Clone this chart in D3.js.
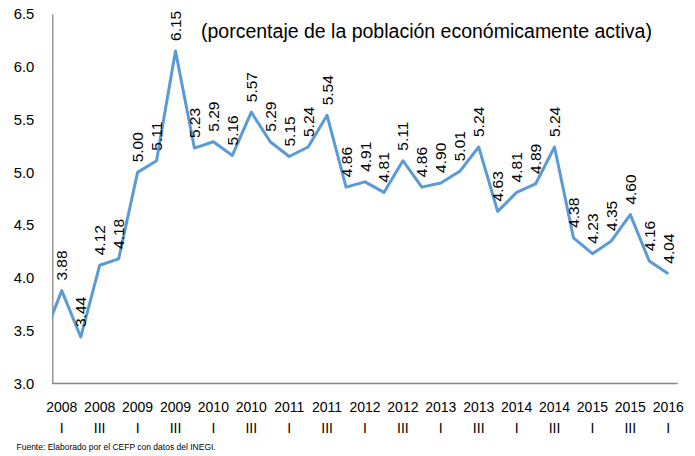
<!DOCTYPE html>
<html>
<head>
<meta charset="utf-8">
<script src="https://cdn.jsdelivr.net/npm/d3@7"></script>
<style>
  body { margin: 0; background: #fff; }
  text { font-family: "Liberation Sans", Arial, sans-serif; fill: #000; }
</style>
</head>
<body>
<div class="chart"></div>
<script>
var years = ["2008","2008","2008","2008","2009","2009","2009","2009","2010","2010","2010","2010",
             "2011","2011","2011","2011","2012","2012","2012","2012","2013","2013","2013","2013",
             "2014","2014","2014","2014","2015","2015","2015","2015","2016"];
var quarters = ["I","II","III","IV","I","II","III","IV","I","II","III","IV",
                "I","II","III","IV","I","II","III","IV","I","II","III","IV",
                "I","II","III","IV","I","II","III","IV","I"];
var values = [3.88,3.44,4.12,4.18,5.00,5.11,6.15,5.23,5.29,5.16,5.57,5.29,
              5.15,5.24,5.54,4.86,4.91,4.81,5.11,4.86,4.90,5.01,5.24,4.63,
              4.81,4.89,5.24,4.38,4.23,4.35,4.60,4.16,4.04];
// previous quarter (2007 IV), only its segment shows at the left edge
var leadValue = 3.42;
var yTicks = [3.0,3.5,4.0,4.5,5.0,5.5,6.0,6.5];

var w = 695, h = 456;
var plotLeft = 52.3, plotRight = 677.7, plotTop = 14, plotBottom = 383.5;

var svg = d3.select(".chart").append("svg")
    .attr("width", w)
    .attr("height", h);

var x = d3.scaleLinear()
    .domain([-0.5, values.length - 0.5])
    .range([plotLeft, plotRight]);

var y = d3.scaleLinear()
    .domain([3.0, 6.5])
    .range([plotBottom, plotTop]);

svg.append("defs").append("clipPath")
    .attr("id", "plot")
    .append("rect")
    .attr("x", plotLeft).attr("y", 0)
    .attr("width", plotRight - plotLeft).attr("height", plotBottom);

// y axis
var yAxis = svg.append("g")
    .attr("transform", "translate(" + plotLeft + ",0)")
    .call(d3.axisLeft(y).tickValues(yTicks).tickFormat(d3.format(".1f")).tickSize(0).tickPadding(18));
yAxis.select(".domain").attr("stroke", "#868686").attr("stroke-width", 1.3);
yAxis.selectAll("text")
    .style("font-size", "14.8px")
    .style("font-family", "'Liberation Sans', Arial, sans-serif")
    .attr("fill", "#000");

// x axis line
svg.append("line")
    .attr("x1", plotLeft).attr("x2", plotRight)
    .attr("y1", plotBottom).attr("y2", plotBottom)
    .attr("stroke", "#868686")
    .attr("stroke-width", 1.3);

var idx = d3.range(values.length).filter(function(i) { return i % 2 == 0; });

svg.selectAll("text.year")
    .data(idx)
    .enter()
    .append("text")
    .attr("class", "year")
    .attr("x", function(i) { return x(i); })
    .attr("y", 412)
    .attr("text-anchor", "middle")
    .style("font-size", "14px")
    .text(function(i) { return years[i]; });

svg.selectAll("text.quarter")
    .data(idx)
    .enter()
    .append("text")
    .attr("class", "quarter")
    .attr("x", function(i) { return x(i); })
    .attr("y", 433)
    .attr("text-anchor", "middle")
    .style("font-size", "14px")
    .text(function(i) { return quarters[i]; });

// line
var pts = [[-1, leadValue]].concat(values.map(function(v, i) { return [i, v]; }));
var line = d3.line()
    .x(function(d) { return x(d[0]); })
    .y(function(d) { return y(d[1]); });

svg.append("path")
    .datum(pts)
    .attr("clip-path", "url(#plot)")
    .attr("fill", "none")
    .attr("stroke", "#5B9BD5")
    .attr("stroke-width", 3)
    .attr("stroke-linejoin", "round")
    .attr("d", line);

// data labels
svg.selectAll("text.val")
    .data(values)
    .enter()
    .append("text")
    .attr("class", "val")
    .attr("transform", function(d, i) {
        return "translate(" + (x(i) + 5.5) + "," + (y(d) - 10) + ") rotate(-90)";
    })
    .style("font-size", "15.5px")
    .text(function(d) { return d3.format(".2f")(d); });

svg.append("text")
    .attr("x", 201)
    .attr("y", 38)
    .style("font-size", "19.5px")
    .text("(porcentaje de la población económicamente activa)");

svg.append("text")
    .attr("x", 16.5)
    .attr("y", 450)
    .style("font-size", "8.5px")
    .text("Fuente: Elaborado por el CEFP con datos del INEGI.");
</script>
</body>
</html>
